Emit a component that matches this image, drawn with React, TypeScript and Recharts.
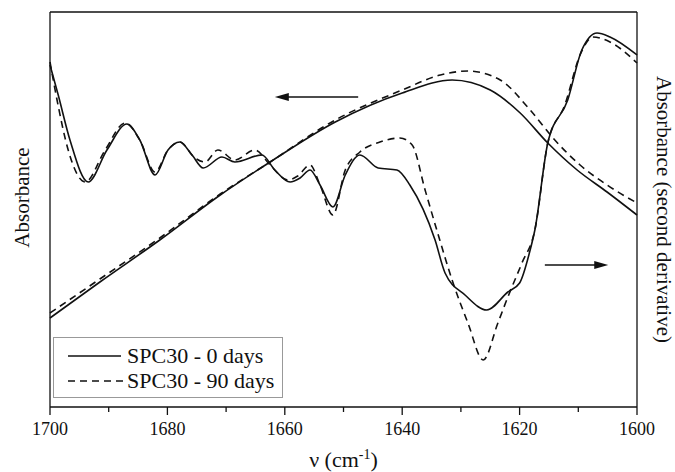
import { LineChart, Line, XAxis, YAxis, ReferenceLine, Legend, Label } from 'recharts';

// second derivative, SPC30 - 0 days
const wnDeriv0 = [1700, 1698.6, 1696.6, 1693.5, 1690.3, 1686.9, 1684.7, 1682.1, 1679.9, 1677.9, 1675.8, 1673.9, 1670.7, 1668.5, 1663.9, 1661.7, 1659.1, 1657.4, 1655.7, 1654, 1651.8, 1649.7, 1647.2, 1644.1, 1640.9, 1638.7, 1634.4, 1632.7, 1629.3, 1625.6, 1622, 1620, 1618.2, 1617.4, 1615.2, 1611.8, 1609.4, 1606.8, 1604.6, 1600];
const deriv0 = [342, 312, 267, 225, 257, 283, 267, 232, 257, 265, 252, 239, 250, 245, 252, 237, 225, 229, 237, 222, 200, 232, 252, 239, 237, 222, 167, 134, 112, 97, 115, 124, 157, 177, 264, 307, 357, 374, 370, 352];

// second derivative, SPC30 - 90 days
const wnDeriv90 = [1700, 1698.8, 1696.9, 1694, 1690.6, 1687.2, 1684.7, 1682.1, 1679.9, 1677.9, 1675.3, 1673.6, 1671.4, 1668.5, 1665.1, 1662.5, 1659.5, 1657.8, 1655.7, 1654, 1651.8, 1649.7, 1647.2, 1643.8, 1640.4, 1638.3, 1636.1, 1633.6, 1631.5, 1628.8, 1626.2, 1623.7, 1622, 1619.6, 1617.4, 1615.2, 1612.3, 1609.7, 1607.5, 1604.6, 1600];
const deriv90 = [345, 307, 257, 225, 257, 284, 267, 235, 257, 265, 249, 245, 257, 247, 257, 242, 227, 231, 242, 222, 192, 237, 255, 265, 269, 262, 217, 167, 127, 84, 47, 84, 110, 144, 177, 264, 302, 352, 370, 365, 344];

// absorbance
const wnAbs0 = [1700, 1691.5, 1681.3, 1671, 1662.5, 1651.4, 1640, 1631.5, 1625, 1619.9, 1615.2, 1610.2, 1605.1, 1600];
const abs0 = [89, 125, 167, 212, 245, 285, 314, 327, 317, 294, 264, 237, 215, 192];
const wnAbs90 = [1700, 1691.5, 1681.3, 1671, 1662.5, 1651.4, 1640, 1633.5, 1628.8, 1623.3, 1618.2, 1614, 1609.7, 1605.1, 1600];
const abs90 = [94, 128, 169, 213, 245, 287, 317, 332, 336, 327, 297, 267, 242, 222, 204];

const xTicks = [1700, 1690, 1680, 1670, 1660, 1650, 1640, 1630, 1620, 1610, 1600];
const legendNames = ['SPC30 - 0 days', 'SPC30 - 90 days'];

const toRows = (wn: number[], v: number[]) => wn.map((w, i) => ({ wn: w, v: v[i] }));

const FONT = '"Liberation Serif", "Times New Roman", serif';
const INK = '#111';

const Tick = (props: any) => {
  const { x, y, payload } = props;
  const major = payload.value % 20 === 0;
  return (
    <g>
      <line x1={x} x2={x} y1={y} y2={y + (major ? 8 : 5)} stroke={INK} strokeWidth={1.3} />
      {major && (
        <text x={x} y={y + 28} textAnchor="middle" fontFamily={FONT} fontSize={18} fill={INK}>
          {payload.value}
        </text>
      )}
    </g>
  );
};

const Arrow = (props: any) => {
  const { x1, y1, x2, y2 } = props;
  const dir = x2 > x1 ? 1 : -1;
  return (
    <g>
      <line x1={x1} y1={y1} x2={x2 - dir * 8} y2={y2} stroke={INK} strokeWidth={1.6} />
      <polygon points={`${x2},${y2} ${x2 - dir * 14},${y2 - 4} ${x2 - dir * 14},${y2 + 4}`} fill={INK} />
    </g>
  );
};

const LegendBox = () => (
  <div style={{ border: '1px solid #999', background: '#fff', padding: '5px 0 4px', width: 230, fontFamily: FONT, fontSize: 22, color: INK, boxSizing: 'border-box' }}>
    {legendNames.map((name, i) => (
      <div key={name} style={{ display: 'flex', alignItems: 'center', height: 25, lineHeight: '25px' }}>
        <svg width={73} height={10} style={{ flex: 'none' }}>
          <line x1={14} x2={i === 1 ? 72 : 67} y1={5} y2={5} stroke={INK} strokeWidth={1.6} strokeDasharray={i === 1 ? '7 5' : undefined} />
        </svg>
        <span>{name}</span>
      </div>
    ))}
  </div>
);

export default function App() {
  return (
    <div style={{ position: 'absolute', left: 0, top: 0, background: '#fff' }}>
      <LineChart width={675} height={472} margin={{ top: 12, right: 0, bottom: 0, left: 0 }}>
        <XAxis
          dataKey="wn"
          type="number"
          domain={[1600, 1700]}
          reversed
          ticks={xTicks}
          interval={0}
          tick={<Tick />}
          tickLine={false}
          tickSize={0}
          tickMargin={0}
          height={65}
          axisLine={{ stroke: INK, strokeWidth: 1.3 }}
        >
          <Label
            content={(p: any) => {
              const vb = p.viewBox;
              return (
                <text x={vb.x + vb.width / 2} y={vb.y + 60} textAnchor="middle" fontFamily={FONT} fontSize={22} fill={INK}>
                  ν (cm<tspan dy={-8} fontSize={14}>-1</tspan><tspan dy={8}>)</tspan>
                </text>
              );
            }}
          />
        </XAxis>
        <YAxis
          yAxisId="abs"
          domain={[0, 395]}
          width={50}
          tick={false}
          tickLine={false}
          axisLine={{ stroke: INK, strokeWidth: 1.3 }}
        >
          <Label
            content={(p: any) => {
              const vb = p.viewBox;
              const cx = 22;
              const cy = vb.y + vb.height / 2 - 12;
              return (
                <text x={cx} y={cy} transform={`rotate(-90 ${cx} ${cy})`} textAnchor="middle" dominantBaseline="central" fontFamily={FONT} fontSize={21} fill={INK}>
                  Absorbance
                </text>
              );
            }}
          />
        </YAxis>
        <YAxis
          yAxisId="deriv"
          orientation="right"
          domain={[0, 395]}
          width={38}
          tick={false}
          tickLine={false}
          axisLine={{ stroke: INK, strokeWidth: 1.3 }}
        >
          <Label
            content={(p: any) => {
              const vb = p.viewBox;
              const cx = 664;
              const cy = vb.y + vb.height / 2;
              return (
                <text x={cx} y={cy} transform={`rotate(90 ${cx} ${cy})`} textAnchor="middle" dominantBaseline="central" fontFamily={FONT} fontSize={21} fill={INK}>
                  Absorbance (second derivative)
                </text>
              );
            }}
          />
        </YAxis>
        <ReferenceLine yAxisId="abs" y={395} stroke={INK} strokeWidth={1.3} />
        <ReferenceLine
          yAxisId="abs"
          segment={[{ x: 1647.5, y: 310 }, { x: 1661.7, y: 310 }]}
          shape={<Arrow />}
        />
        <ReferenceLine
          yAxisId="deriv"
          segment={[{ x: 1615.7, y: 142 }, { x: 1604.9, y: 142 }]}
          shape={<Arrow />}
        />
        <Line yAxisId="abs" data={toRows(wnAbs0, abs0)} dataKey="v" type="monotone" stroke={INK} strokeWidth={1.6} dot={false} isAnimationActive={false} legendType="none" />
        <Line yAxisId="abs" data={toRows(wnAbs90, abs90)} dataKey="v" type="monotone" stroke={INK} strokeWidth={1.6} strokeDasharray="7 5" dot={false} isAnimationActive={false} legendType="none" />
        <Line yAxisId="deriv" data={toRows(wnDeriv0, deriv0)} dataKey="v" name={legendNames[0]} type="monotone" stroke={INK} strokeWidth={1.6} dot={false} isAnimationActive={false} />
        <Line yAxisId="deriv" data={toRows(wnDeriv90, deriv90)} dataKey="v" name={legendNames[1]} type="monotone" stroke={INK} strokeWidth={1.6} strokeDasharray="7 5" dot={false} isAnimationActive={false} />
        <Legend
          layout="horizontal"
          verticalAlign="middle"
          content={<LegendBox />}
          wrapperStyle={{ position: 'absolute', left: 53, top: 337, width: 232 }}
        />
      </LineChart>
    </div>
  );
}
